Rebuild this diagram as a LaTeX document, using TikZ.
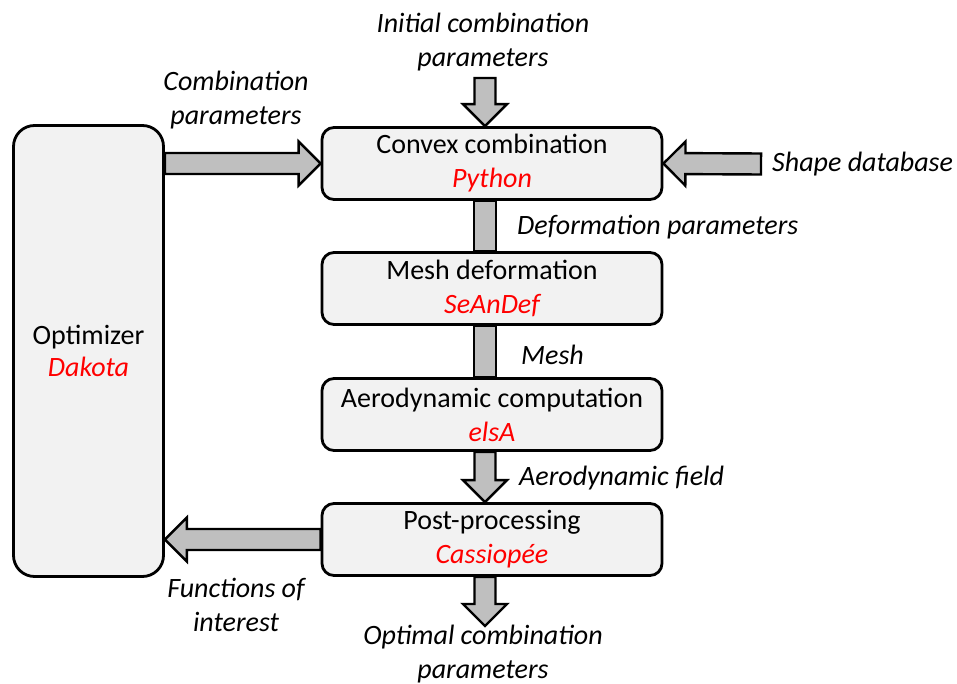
\documentclass[tikz,border=0pt]{standalone}
\usepackage{fontspec}
\setmainfont{Carlito}
\usetikzlibrary{calc,backgrounds}
\definecolor{boxfill}{HTML}{F2F2F2}
\definecolor{arrfill}{HTML}{BFBFBF}
\newcommand{\fatarrow}[2]{%
  \coordinate (fah) at ($(#2)!22pt!(#1)$);
  \draw[fat] ($(#1)!10.5pt!90:(#2)$) -- ($(fah)!10.5pt!-90:(#1)$) -- ($(fah)!22pt!-90:(#1)$) -- (#2) -- ($(fah)!22pt!90:(#1)$) -- ($(fah)!10.5pt!90:(#1)$) -- ($(#1)!10.5pt!-90:(#2)$) -- cycle;}
\newcommand{\fatshaft}[2]{%
  \draw[fat] ($(#1)!11pt!90:(#2)$) -- ($(#2)!11pt!-90:(#1)$) -- ($(#2)!11pt!90:(#1)$) -- ($(#1)!11pt!-90:(#2)$) -- cycle;}
\begin{document}
\begin{tikzpicture}[x=1pt,y=-1pt,
  every node/.style={font=\fontsize{28}{34}\selectfont},
  box/.style={draw, line width=2.8pt, fill=boxfill, rounded corners=12pt, align=center,
    minimum width=340pt, minimum height=72pt, inner sep=0pt},
  obox/.style={draw, line width=2.8pt, fill=boxfill, rounded corners=21pt, align=center,
    minimum width=150pt, minimum height=451pt, inner sep=0pt},
  fat/.style={draw, line width=2.4pt, fill=arrfill, line join=miter},
  lbl/.style={font=\fontsize{28}{34}\selectfont\itshape, inner sep=0pt, align=center}]
\useasboundingbox (0,0) rectangle (957,684);
\node[obox] (opt) at (88.5,351) {Optimizer\\[-2pt]\textcolor{red}{\itshape Dakota}};
\node[box] (conv) at (492,163.5) {Convex combination\\\textcolor{red}{\itshape Python}};
\node[box] (mesh) at (492,288.5) {Mesh deformation\\\textcolor{red}{\itshape SeAnDef}};
\node[box] (aero) at (492,414.5) {Aerodynamic computation\\\textcolor{red}{\itshape elsA}};
\node[box] (post) at (492,539.5) {Post-processing\\\textcolor{red}{\itshape Cassiopée}};

\node[lbl] (linit) at (483,42) {Initial combination\\parameters};
\node[lbl] (lcomb) at (236,100) {Combination\\parameters};
\node[lbl, anchor=west] (lshape) at (772,164) {Shape database};
\node[lbl, anchor=west] (ldef) at (517,227) {Deformation parameters};
\node[lbl, anchor=west] (lmesh) at (521,355) {Mesh};
\node[lbl, anchor=west] (lfield) at (519,478) {Aerodynamic field};
\node[lbl] (lfun) at (236,605) {Functions of\\interest};
\node[lbl] (lopt) at (483,654) {Optimal combination\\parameters};

\coordinate (ax) at (485,0);
\coordinate (inS) at (485,78);
\coordinate (inE) at (ax |- conv.north);
\coordinate (cbS) at (opt.east |- conv.west);
\coordinate (sdS) at ($(lshape.west)+(-11,0)$);
\coordinate (s1S) at (ax |- conv.south);
\coordinate (s1E) at (ax |- mesh.north);
\coordinate (s2S) at (ax |- mesh.south);
\coordinate (s2E) at (ax |- aero.north);
\coordinate (s3S) at (ax |- aero.south);
\coordinate (s3E) at (ax |- post.north);
\coordinate (s4S) at (ax |- post.south);
\coordinate (outE) at (485,626);
\coordinate (fnE) at (opt.east |- post.west);

\begin{pgfonlayer}{background}
\fatarrow{inS}{inE}
\fatarrow{cbS}{conv.west}
\fatarrow{sdS}{conv.east}
\fatshaft{s1S}{s1E}
\fatshaft{s2S}{s2E}
\fatarrow{s3S}{s3E}
\fatarrow{post.west}{fnE}
\fatarrow{s4S}{outE}
\end{pgfonlayer}
\end{tikzpicture}
\end{document}
